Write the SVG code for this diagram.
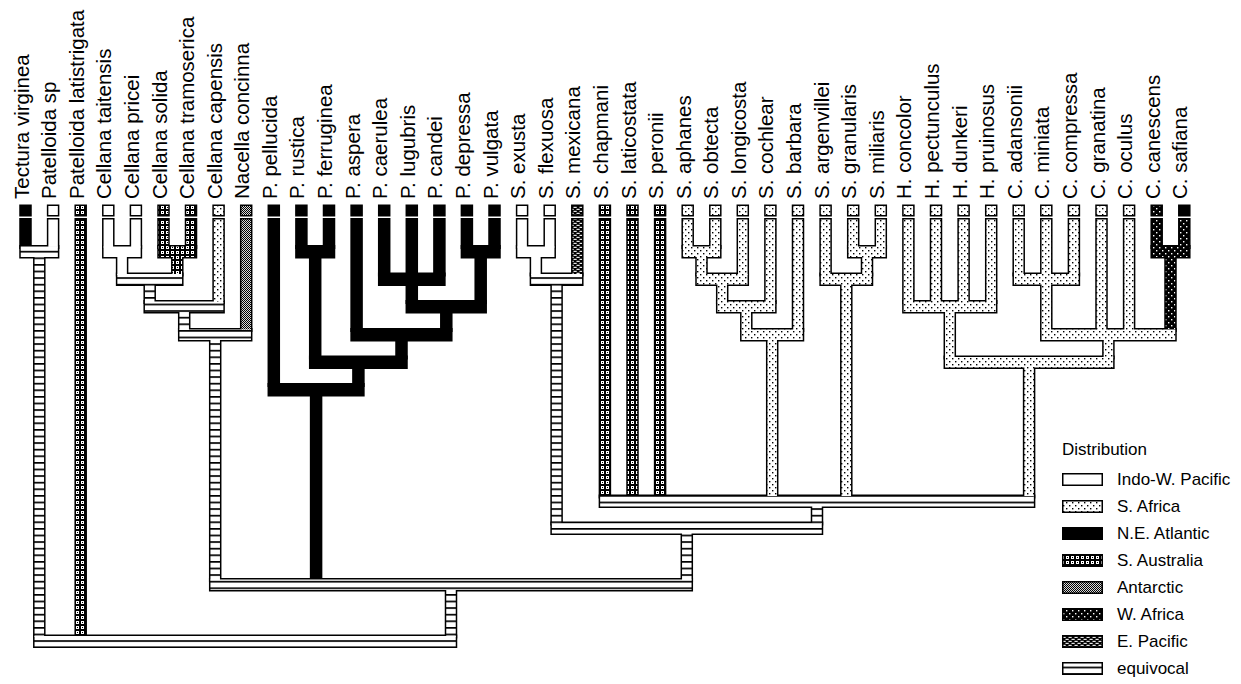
<svg xmlns="http://www.w3.org/2000/svg" xmlns:xlink="http://www.w3.org/1999/xlink" width="1241" height="684" viewBox="0 0 1241 684">
<style>
.lab{font-family:"Liberation Sans",Arial,sans-serif;font-size:20.5px;fill:#000}
.leg{font-family:"Liberation Sans",Arial,sans-serif;font-size:17px;fill:#000}
.box{stroke:#000;stroke-width:1.5}
.iwp{fill:#fff}.saf{fill:url(#pSaf)}.nea{fill:#000}.saus{fill:url(#pSaus)}.ant{fill:url(#pAnt)}.waf{fill:url(#pWaf)}.epac{fill:url(#pEpac)}.eq{fill:url(#pEq)}
.outline{stroke:#000;stroke-width:3}
</style>
<defs>
<pattern id="pSaf" width="6" height="6" patternUnits="userSpaceOnUse"><rect width="6" height="6" fill="#fff"/><rect x="1" y="1" width="1.4" height="1.4" fill="#000"/><rect x="4" y="4" width="1.4" height="1.4" fill="#000"/></pattern>
<pattern id="pSaus" width="5" height="5" patternUnits="userSpaceOnUse"><rect width="5" height="5" fill="#000"/><rect x="1" y="1" width="3" height="3" fill="#fff"/><rect x="2" y="2" width="1" height="1" fill="#000"/></pattern>
<pattern id="pAnt" width="2" height="2" patternUnits="userSpaceOnUse"><rect width="2" height="2" fill="#d8d8d8"/><rect width="1" height="1" fill="#000"/><rect x="1" y="1" width="1" height="1" fill="#000"/></pattern>
<pattern id="pWaf" width="6" height="6" patternUnits="userSpaceOnUse"><rect width="6" height="6" fill="#000"/><rect x="1" y="1" width="1.4" height="1.4" fill="#fff"/><rect x="4" y="4" width="1.4" height="1.4" fill="#fff"/></pattern>
<pattern id="pEpac" width="6" height="4" patternUnits="userSpaceOnUse"><rect width="6" height="4" fill="#000"/><rect x="0.5" y="0.8" width="3.2" height="1.1" fill="#fff"/><rect x="3.5" y="2.8" width="3.2" height="1.1" fill="#fff"/><rect x="-2.5" y="2.8" width="3.2" height="1.1" fill="#fff"/></pattern>
<pattern id="pEq" width="8" height="6.6" patternUnits="userSpaceOnUse"><rect width="8" height="6.6" fill="#fff"/><rect width="8" height="1.7" fill="#000"/></pattern>
<g id="br">
<rect class="nea" x="20.75" y="219.5" width="9.5" height="28"/>
<rect class="iwp" x="48.35" y="219.5" width="9.5" height="28"/>
<rect class="eq" x="34.55" y="256" width="9.5" height="381"/>
<rect class="saus" x="75.95" y="219.5" width="9.5" height="417.5"/>
<rect class="eq" x="446.25" y="589" width="9.5" height="48"/>
<rect class="iwp" x="103.55" y="219.5" width="9.5" height="28"/>
<rect class="iwp" x="131.15" y="219.5" width="9.5" height="28"/>
<rect class="saus" x="158.75" y="219.5" width="9.5" height="28"/>
<rect class="saus" x="186.25" y="219.5" width="9.5" height="28"/>
<rect class="iwp" x="117.35" y="256" width="9.5" height="19"/>
<rect class="saus" x="172.55" y="256" width="9.5" height="19"/>
<rect class="eq" x="144.95" y="283.5" width="9.5" height="19"/>
<rect class="saf" x="213.85" y="219.5" width="9.5" height="83"/>
<rect class="eq" x="179.45" y="311" width="9.5" height="19.5"/>
<rect class="ant" x="241.45" y="219.5" width="9.5" height="111"/>
<rect class="eq" x="210.45" y="339" width="9.5" height="241.5"/>
<rect class="nea" x="311.35" y="394" width="9.5" height="186.5"/>
<rect class="eq" x="682.05" y="532.5" width="9.5" height="48"/>
<rect class="nea" x="296.65" y="219.5" width="9.5" height="28"/>
<rect class="nea" x="324.25" y="219.5" width="9.5" height="28"/>
<rect class="nea" x="379.45" y="219.5" width="9.5" height="55.5"/>
<rect class="nea" x="407.05" y="219.5" width="9.5" height="55.5"/>
<rect class="nea" x="434.65" y="219.5" width="9.5" height="55.5"/>
<rect class="nea" x="462.15" y="219.5" width="9.5" height="28"/>
<rect class="nea" x="489.75" y="219.5" width="9.5" height="28"/>
<rect class="nea" x="407.05" y="283.5" width="9.5" height="19"/>
<rect class="nea" x="475.95" y="256" width="9.5" height="46.5"/>
<rect class="nea" x="351.85" y="219.5" width="9.5" height="111"/>
<rect class="nea" x="441.55" y="311" width="9.5" height="19.5"/>
<rect class="nea" x="310.45" y="256" width="9.5" height="102"/>
<rect class="nea" x="396.75" y="339" width="9.5" height="19"/>
<rect class="nea" x="269.05" y="219.5" width="9.5" height="166"/>
<rect class="nea" x="353.65" y="366.5" width="9.5" height="19"/>
<rect class="iwp" x="517.35" y="219.5" width="9.5" height="28"/>
<rect class="iwp" x="544.95" y="219.5" width="9.5" height="28"/>
<rect class="iwp" x="531.15" y="256" width="9.5" height="19"/>
<rect class="epac" x="572.55" y="219.5" width="9.5" height="55.5"/>
<rect class="eq" x="551.85" y="283.5" width="9.5" height="240.5"/>
<rect class="eq" x="812.25" y="505.5" width="9.5" height="18.5"/>
<rect class="saus" x="600.15" y="219.5" width="9.5" height="277.5"/>
<rect class="saus" x="627.75" y="219.5" width="9.5" height="277.5"/>
<rect class="saus" x="655.35" y="219.5" width="9.5" height="277.5"/>
<rect class="saf" x="767.45" y="339" width="9.5" height="158"/>
<rect class="saf" x="841.55" y="283.5" width="9.5" height="213.5"/>
<rect class="saf" x="1024.35" y="366.5" width="9.5" height="130.5"/>
<rect class="saf" x="682.95" y="219.5" width="9.5" height="28"/>
<rect class="saf" x="710.55" y="219.5" width="9.5" height="28"/>
<rect class="saf" x="696.75" y="256" width="9.5" height="19"/>
<rect class="saf" x="738.05" y="219.5" width="9.5" height="55.5"/>
<rect class="saf" x="717.45" y="283.5" width="9.5" height="19"/>
<rect class="saf" x="765.65" y="219.5" width="9.5" height="83"/>
<rect class="saf" x="741.55" y="311" width="9.5" height="19.5"/>
<rect class="saf" x="793.25" y="219.5" width="9.5" height="111"/>
<rect class="saf" x="848.45" y="219.5" width="9.5" height="28"/>
<rect class="saf" x="876.05" y="219.5" width="9.5" height="28"/>
<rect class="saf" x="820.85" y="219.5" width="9.5" height="55.5"/>
<rect class="saf" x="862.25" y="256" width="9.5" height="19"/>
<rect class="saf" x="903.65" y="219.5" width="9.5" height="83"/>
<rect class="saf" x="931.25" y="219.5" width="9.5" height="83"/>
<rect class="saf" x="958.85" y="219.5" width="9.5" height="83"/>
<rect class="saf" x="986.45" y="219.5" width="9.5" height="83"/>
<rect class="saf" x="1013.95" y="219.5" width="9.5" height="55.5"/>
<rect class="saf" x="1041.55" y="219.5" width="9.5" height="55.5"/>
<rect class="saf" x="1069.15" y="219.5" width="9.5" height="55.5"/>
<rect class="waf" x="1151.95" y="219.5" width="9.5" height="28"/>
<rect class="waf" x="1179.55" y="219.5" width="9.5" height="28"/>
<rect class="saf" x="1041.55" y="283.5" width="9.5" height="47"/>
<rect class="saf" x="1096.75" y="219.5" width="9.5" height="111"/>
<rect class="saf" x="1124.35" y="219.5" width="9.5" height="111"/>
<rect class="waf" x="1165.75" y="256" width="9.5" height="74.5"/>
<rect class="saf" x="945.05" y="311" width="9.5" height="47"/>
<rect class="saf" x="1103.65" y="339" width="9.5" height="19"/>
<rect class="eq" x="20.75" y="246.5" width="37.1" height="10.5"/>
<rect class="iwp" x="103.55" y="246.5" width="37.1" height="10.5"/>
<rect class="saus" x="158.75" y="246.5" width="37" height="10.5"/>
<rect class="eq" x="117.35" y="274" width="64.7" height="10.5"/>
<rect class="eq" x="144.95" y="301.5" width="78.4" height="10.5"/>
<rect class="eq" x="179.45" y="329.5" width="71.5" height="10.5"/>
<rect class="nea" x="296.65" y="246.5" width="37.1" height="10.5"/>
<rect class="nea" x="379.45" y="274" width="64.7" height="10.5"/>
<rect class="nea" x="462.15" y="246.5" width="37.1" height="10.5"/>
<rect class="nea" x="407.05" y="301.5" width="78.4" height="10.5"/>
<rect class="nea" x="351.85" y="329.5" width="99.2" height="10.5"/>
<rect class="nea" x="310.45" y="357" width="95.8" height="10.5"/>
<rect class="nea" x="269.05" y="384.5" width="94.1" height="10.5"/>
<rect class="iwp" x="517.35" y="246.5" width="37.1" height="10.5"/>
<rect class="eq" x="531.15" y="274" width="50.9" height="10.5"/>
<rect class="saf" x="682.95" y="246.5" width="37.1" height="10.5"/>
<rect class="saf" x="696.75" y="274" width="50.8" height="10.5"/>
<rect class="saf" x="717.45" y="301.5" width="57.7" height="10.5"/>
<rect class="saf" x="741.55" y="329.5" width="61.2" height="10.5"/>
<rect class="saf" x="848.45" y="246.5" width="37.1" height="10.5"/>
<rect class="saf" x="820.85" y="274" width="50.9" height="10.5"/>
<rect class="saf" x="903.65" y="301.5" width="92.3" height="10.5"/>
<rect class="saf" x="1013.95" y="274" width="64.7" height="10.5"/>
<rect class="waf" x="1151.95" y="246.5" width="37.1" height="10.5"/>
<rect class="saf" x="1041.55" y="329.5" width="133.7" height="10.5"/>
<rect class="saf" x="945.05" y="357" width="168.1" height="10.5"/>
<rect class="eq" x="600.15" y="496" width="433.7" height="10.5"/>
<rect class="eq" x="551.85" y="523" width="269.9" height="10.5"/>
<rect class="eq" x="210.45" y="579.5" width="481.1" height="10.5"/>
<rect class="eq" x="34.55" y="636" width="421.2" height="10.5"/>
</g>
</defs>
<g id="connectors">
<use href="#br" xlink:href="#br" class="outline"/>
<use href="#br" xlink:href="#br"/>
</g>
<g id="t01"><rect class="box nea" x="20.0" y="205.25" width="11" height="10.5"/><text class="lab" transform="translate(28.5,199) rotate(-90)">Tectura virginea</text></g>
<g id="t02"><rect class="box iwp" x="47.6" y="205.25" width="11" height="10.5"/><text class="lab" transform="translate(56.1,199) rotate(-90)">Patelloida sp</text></g>
<g id="t03"><rect class="box saus" x="75.2" y="205.25" width="11" height="10.5"/><text class="lab" transform="translate(83.7,199) rotate(-90)">Patelloida latistrigata</text></g>
<g id="t04"><rect class="box iwp" x="102.8" y="205.25" width="11" height="10.5"/><text class="lab" transform="translate(111.3,199) rotate(-90)">Cellana taitensis</text></g>
<g id="t05"><rect class="box iwp" x="130.4" y="205.25" width="11" height="10.5"/><text class="lab" transform="translate(138.9,199) rotate(-90)">Cellana pricei</text></g>
<g id="t06"><rect class="box saus" x="158.0" y="205.25" width="11" height="10.5"/><text class="lab" transform="translate(166.5,199) rotate(-90)">Cellana solida</text></g>
<g id="t07"><rect class="box saus" x="185.5" y="205.25" width="11" height="10.5"/><text class="lab" transform="translate(194.0,199) rotate(-90)">Cellana tramoserica</text></g>
<g id="t08"><rect class="box saf" x="213.1" y="205.25" width="11" height="10.5"/><text class="lab" transform="translate(221.6,199) rotate(-90)">Cellana capensis</text></g>
<g id="t09"><rect class="box ant" x="240.7" y="205.25" width="11" height="10.5"/><text class="lab" transform="translate(249.2,199) rotate(-90)">Nacella concinna</text></g>
<g id="t10"><rect class="box nea" x="268.3" y="205.25" width="11" height="10.5"/><text class="lab" transform="translate(276.8,199) rotate(-90)">P. pellucida</text></g>
<g id="t11"><rect class="box nea" x="295.9" y="205.25" width="11" height="10.5"/><text class="lab" transform="translate(304.4,199) rotate(-90)">P. rustica</text></g>
<g id="t12"><rect class="box nea" x="323.5" y="205.25" width="11" height="10.5"/><text class="lab" transform="translate(332.0,199) rotate(-90)">P. ferruginea</text></g>
<g id="t13"><rect class="box nea" x="351.1" y="205.25" width="11" height="10.5"/><text class="lab" transform="translate(359.6,199) rotate(-90)">P. aspera</text></g>
<g id="t14"><rect class="box nea" x="378.7" y="205.25" width="11" height="10.5"/><text class="lab" transform="translate(387.2,199) rotate(-90)">P. caerulea</text></g>
<g id="t15"><rect class="box nea" x="406.3" y="205.25" width="11" height="10.5"/><text class="lab" transform="translate(414.8,199) rotate(-90)">P. lugubris</text></g>
<g id="t16"><rect class="box nea" x="433.9" y="205.25" width="11" height="10.5"/><text class="lab" transform="translate(442.4,199) rotate(-90)">P. candei</text></g>
<g id="t17"><rect class="box nea" x="461.4" y="205.25" width="11" height="10.5"/><text class="lab" transform="translate(469.9,199) rotate(-90)">P. depressa</text></g>
<g id="t18"><rect class="box nea" x="489.0" y="205.25" width="11" height="10.5"/><text class="lab" transform="translate(497.5,199) rotate(-90)">P. vulgata</text></g>
<g id="t19"><rect class="box iwp" x="516.6" y="205.25" width="11" height="10.5"/><text class="lab" transform="translate(525.1,199) rotate(-90)">S. exusta</text></g>
<g id="t20"><rect class="box iwp" x="544.2" y="205.25" width="11" height="10.5"/><text class="lab" transform="translate(552.7,199) rotate(-90)">S. flexuosa</text></g>
<g id="t21"><rect class="box epac" x="571.8" y="205.25" width="11" height="10.5"/><text class="lab" transform="translate(580.3,199) rotate(-90)">S. mexicana</text></g>
<g id="t22"><rect class="box saus" x="599.4" y="205.25" width="11" height="10.5"/><text class="lab" transform="translate(607.9,199) rotate(-90)">S. chapmani</text></g>
<g id="t23"><rect class="box saus" x="627.0" y="205.25" width="11" height="10.5"/><text class="lab" transform="translate(635.5,199) rotate(-90)">S. laticostata</text></g>
<g id="t24"><rect class="box saus" x="654.6" y="205.25" width="11" height="10.5"/><text class="lab" transform="translate(663.1,199) rotate(-90)">S. peronii</text></g>
<g id="t25"><rect class="box saf" x="682.2" y="205.25" width="11" height="10.5"/><text class="lab" transform="translate(690.7,199) rotate(-90)">S. aphanes</text></g>
<g id="t26"><rect class="box saf" x="709.8" y="205.25" width="11" height="10.5"/><text class="lab" transform="translate(718.3,199) rotate(-90)">S. obtecta</text></g>
<g id="t27"><rect class="box saf" x="737.3" y="205.25" width="11" height="10.5"/><text class="lab" transform="translate(745.8,199) rotate(-90)">S. longicosta</text></g>
<g id="t28"><rect class="box saf" x="764.9" y="205.25" width="11" height="10.5"/><text class="lab" transform="translate(773.4,199) rotate(-90)">S. cochlear</text></g>
<g id="t29"><rect class="box saf" x="792.5" y="205.25" width="11" height="10.5"/><text class="lab" transform="translate(801.0,199) rotate(-90)">S. barbara</text></g>
<g id="t30"><rect class="box saf" x="820.1" y="205.25" width="11" height="10.5"/><text class="lab" transform="translate(828.6,199) rotate(-90)">S. argenvillei</text></g>
<g id="t31"><rect class="box saf" x="847.7" y="205.25" width="11" height="10.5"/><text class="lab" transform="translate(856.2,199) rotate(-90)">S. granularis</text></g>
<g id="t32"><rect class="box saf" x="875.3" y="205.25" width="11" height="10.5"/><text class="lab" transform="translate(883.8,199) rotate(-90)">S. miliaris</text></g>
<g id="t33"><rect class="box saf" x="902.9" y="205.25" width="11" height="10.5"/><text class="lab" transform="translate(911.4,199) rotate(-90)">H. concolor</text></g>
<g id="t34"><rect class="box saf" x="930.5" y="205.25" width="11" height="10.5"/><text class="lab" transform="translate(939.0,199) rotate(-90)">H. pectunculus</text></g>
<g id="t35"><rect class="box saf" x="958.1" y="205.25" width="11" height="10.5"/><text class="lab" transform="translate(966.6,199) rotate(-90)">H. dunkeri</text></g>
<g id="t36"><rect class="box saf" x="985.7" y="205.25" width="11" height="10.5"/><text class="lab" transform="translate(994.2,199) rotate(-90)">H. pruinosus</text></g>
<g id="t37"><rect class="box saf" x="1013.2" y="205.25" width="11" height="10.5"/><text class="lab" transform="translate(1021.7,199) rotate(-90)">C. adansonii</text></g>
<g id="t38"><rect class="box saf" x="1040.8" y="205.25" width="11" height="10.5"/><text class="lab" transform="translate(1049.3,199) rotate(-90)">C. miniata</text></g>
<g id="t39"><rect class="box saf" x="1068.4" y="205.25" width="11" height="10.5"/><text class="lab" transform="translate(1076.9,199) rotate(-90)">C. compressa</text></g>
<g id="t40"><rect class="box saf" x="1096.0" y="205.25" width="11" height="10.5"/><text class="lab" transform="translate(1104.5,199) rotate(-90)">C. granatina</text></g>
<g id="t41"><rect class="box saf" x="1123.6" y="205.25" width="11" height="10.5"/><text class="lab" transform="translate(1132.1,199) rotate(-90)">C. oculus</text></g>
<g id="t42"><rect class="box waf" x="1151.2" y="205.25" width="11" height="10.5"/><text class="lab" transform="translate(1159.7,199) rotate(-90)">C. canescens</text></g>
<g id="t43"><rect class="box nea" x="1178.8" y="205.25" width="11" height="10.5"/><text class="lab" transform="translate(1187.3,199) rotate(-90)">C. safiana</text></g>
<g id="legend">
<text class="leg" x="1062" y="455">Distribution</text>
<rect class="box iwp" x="1062.75" y="473.75" width="39.5" height="11.5"/><text class="leg" x="1117" y="485">Indo-W. Pacific</text>
<rect class="box saf" x="1062.75" y="500.75" width="39.5" height="11.5"/><text class="leg" x="1117" y="512">S. Africa</text>
<rect class="box nea" x="1062.75" y="527.75" width="39.5" height="11.5"/><text class="leg" x="1117" y="539">N.E. Atlantic</text>
<rect class="box saus" x="1062.75" y="554.75" width="39.5" height="11.5"/><text class="leg" x="1117" y="566">S. Australia</text>
<rect class="box ant" x="1062.75" y="581.75" width="39.5" height="11.5"/><text class="leg" x="1117" y="593">Antarctic</text>
<rect class="box waf" x="1062.75" y="608.75" width="39.5" height="11.5"/><text class="leg" x="1117" y="620">W. Africa</text>
<rect class="box epac" x="1062.75" y="635.75" width="39.5" height="11.5"/><text class="leg" x="1117" y="647">E. Pacific</text>
<rect class="box eq" x="1062.75" y="662.75" width="39.5" height="11.5"/><text class="leg" x="1117" y="674">equivocal</text>
</g>
</svg>
